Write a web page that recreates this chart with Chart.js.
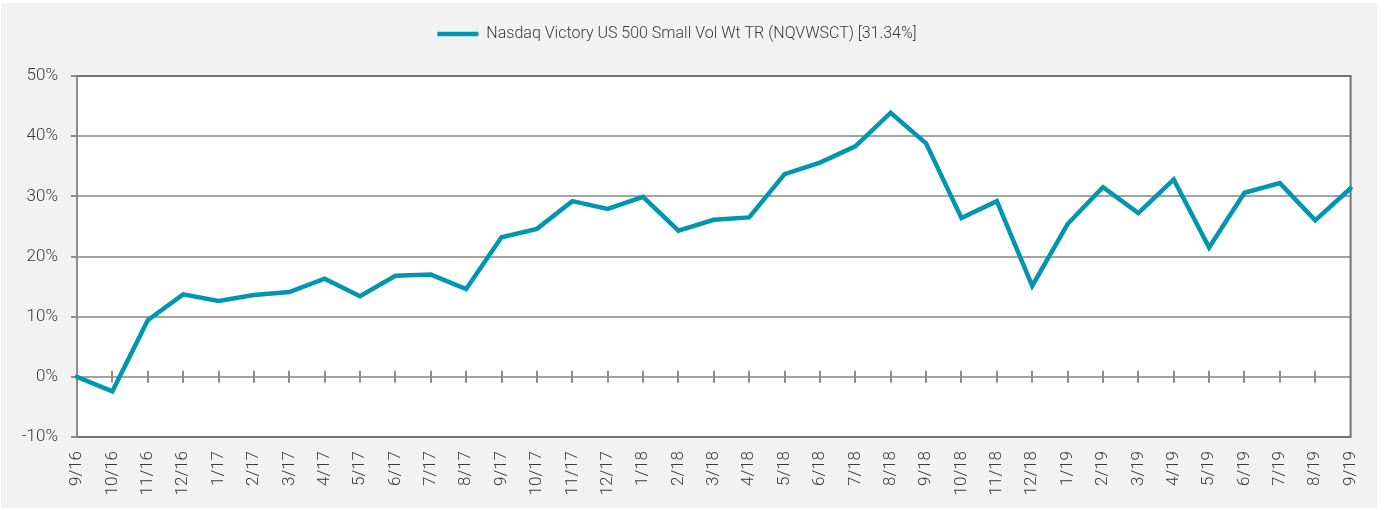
<!DOCTYPE html>
<html>
<head>
<meta charset="utf-8">
<script src="https://cdn.jsdelivr.net/npm/chart.js@4/dist/chart.umd.min.js"></script>
<style>
  html, body { margin: 0; padding: 0; background: #ffffff; }
  #frame { position: absolute; left: 1px; top: 3px; width: 1376px; height: 505px; background: #f2f2f2; }
  canvas { display: block; }
</style>
</head>
<body>
<div id="frame"><canvas id="chart" width="1376" height="505"></canvas></div>
<script>
// Monthly end dates, Sept 2016 – Sept 2019
const months = ['9/16','10/16','11/16','12/16','1/17','2/17','3/17','4/17','5/17','6/17','7/17','8/17',
  '9/17','10/17','11/17','12/17','1/18','2/18','3/18','4/18','5/18','6/18','7/18','8/18',
  '9/18','10/18','11/18','12/18','1/19','2/19','3/19','4/19','5/19','6/19','7/19','8/19','9/19'];

// Cumulative total return (%) since 9/16
const cumulativeReturn = [0, -2.4, 9.4, 13.7, 12.6, 13.6, 14.1, 16.3, 13.4, 16.8, 17.0, 14.6,
  23.2, 24.6, 29.2, 27.9, 29.9, 24.3, 26.1, 26.5, 33.7, 35.6, 38.3, 43.9,
  38.8, 26.4, 29.2, 15.1, 25.4, 31.5, 27.2, 32.8, 21.5, 30.6, 32.2, 26.0, 31.34];

const seriesName = 'Nasdaq Victory US 500 Small Vol Wt TR (NQVWSCT) [31.34%]';
const yTicks = [-10, 0, 10, 20, 30, 40, 50];

const TEAL = '#0096b2';
const TEXT = '#3a3a3a';
const GRID = '#a3a3a3';
const FRAME = '#747474';
const LEGEND_FONT = { family: "Roboto, Lato, sans-serif", size: 16, weight: 300 };
const TICK_FONT = { family: "Roboto, Lato, sans-serif", size: 17, weight: 300 };

// White plot area, dark frame on top/right/bottom, tick marks across the zero line
const plotDecor = {
  id: 'plotDecor',
  beforeDraw(chart) {
    const { ctx, chartArea: a } = chart;
    ctx.save();
    ctx.fillStyle = '#ffffff';
    ctx.fillRect(a.left, a.top, a.right - a.left, a.bottom - a.top);
    ctx.restore();
  },
  beforeDatasetsDraw(chart) {
    const { ctx, chartArea: a, scales: { x, y } } = chart;
    const y0 = y.getPixelForValue(0);
    ctx.save();
    ctx.strokeStyle = '#8c8c8c';
    ctx.lineWidth = 2;
    ctx.beginPath();
    for (let i = 1; i < months.length - 1; i++) {
      const px = Math.round(x.getPixelForValue(i));
      ctx.moveTo(px, y0 - 6);
      ctx.lineTo(px, y0 + 6);
    }
    ctx.stroke();
    ctx.strokeStyle = FRAME;
    ctx.beginPath();
    ctx.moveTo(a.left, a.top);
    ctx.lineTo(a.right, a.top);
    ctx.lineTo(a.right, a.bottom);
    ctx.lineTo(a.left, a.bottom);
    ctx.stroke();
    ctx.restore();
  }
};

// Extra room between the legend and the plot
const legendGap = {
  id: 'legendGap',
  beforeInit(chart) {
    const fit = chart.legend.fit;
    chart.legend.fit = function () { fit.call(this); this.height += 24; };
  }
};

new Chart(document.getElementById('chart'), {
  type: 'line',
  data: {
    labels: months,
    datasets: [{
      label: seriesName,
      data: cumulativeReturn,
      borderColor: TEAL,
      backgroundColor: TEAL,
      borderWidth: 4.5,
      borderCapStyle: 'round',
      borderJoinStyle: 'miter',
      pointRadius: 0,
      pointHoverRadius: 0,
      tension: 0,
      fill: false
    }]
  },
  options: {
    responsive: false,
    devicePixelRatio: 1,
    animation: false,
    layout: { padding: { top: 13, right: 24, bottom: 0, left: 0 } },
    plugins: {
      legend: {
        display: true,
        position: 'top',
        labels: {
          color: TEXT,
          font: LEGEND_FONT,
          usePointStyle: true,
          pointStyle: 'line',
          pointStyleWidth: 41,
          padding: 10
        }
      },
      tooltip: { enabled: false }
    },
    scales: {
      x: {
        type: 'category',
        offset: false,
        grid: { display: false },
        border: { display: false },
        ticks: {
          color: TEXT,
          font: TICK_FONT,
          autoSkip: false,
          maxRotation: 90,
          minRotation: 90,
          padding: 6
        },
        afterFit(scale) { scale.height = 71; }
      },
      y: {
        min: -10,
        max: 50,
        afterBuildTicks(scale) { scale.ticks = yTicks.map(v => ({ value: v })); },
        grid: {
          color: GRID,
          lineWidth: 2,
          drawTicks: true,
          tickLength: 6,
          tickColor: '#8c8c8c'
        },
        border: { display: true, color: '#8c8c8c', width: 2 },
        ticks: {
          color: TEXT,
          font: TICK_FONT,
          padding: 13,
          callback: v => v + '%'
        },
        afterFit(scale) { scale.width = 76; }
      }
    }
  },
  plugins: [plotDecor, legendGap]
});
</script>
</body>
</html>
